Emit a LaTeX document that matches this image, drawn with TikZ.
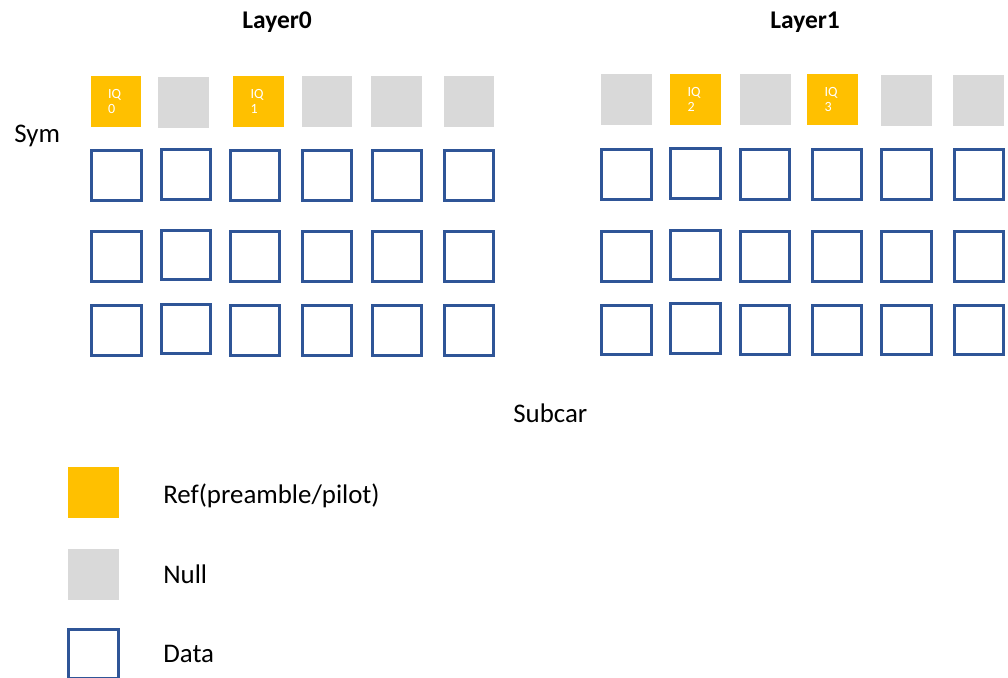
\documentclass[tikz,border=0pt]{standalone}
\usepackage{fontspec}
\setmainfont{Carlito}
\usepackage{tikz}
\usetikzlibrary{positioning}
\definecolor{refyellow}{HTML}{FFC000}
\definecolor{nullgray}{HTML}{D9D9D9}
\definecolor{datablue}{HTML}{2F5597}
\tikzset{
    refbox/.style={rectangle, fill=refyellow, minimum size=1.02cm, inner sep=0pt,
        text=white, align=left, text width=0.32cm, font=\fontsize{8}{8.5}\selectfont},
    nullbox/.style={rectangle, fill=nullgray, minimum size=1.02cm, inner sep=0pt},
    databox/.style={rectangle, draw=datablue, line width=1.5pt, minimum size=0.99cm, inner sep=0pt},
    title/.style={font=\fontsize{14.5}{16}\selectfont\bfseries, inner sep=0pt, anchor=base west},
    label/.style={font=\fontsize{15.3}{17}\selectfont, inner sep=0pt, anchor=base west}
}

\begin{document}
\begin{tikzpicture}[x=0.02cm, y=-0.02cm]
\useasboundingbox (0,0) rectangle (1008,677);

% Headings and axis labels
\node[title] (layer0) at (242,28) {Layer0};
\node[title] (layer1) at (770,28) {Layer1};
\node[label] (sym) at (14,142) {Sym};
\node[label] (subcar) at (513,422) {Subcar};

% Layer0: reference / null row
\node[refbox]  (a0) at (116,101.5)   {IQ\\0};
\node[nullbox] (a1) at (183.5,102)   {};
\node[refbox]  (a2) at (258.5,101.5) {IQ\\1};
\node[nullbox] (a3) at (327,101.5)   {};
\node[nullbox] (a4) at (396.5,101.5) {};
\node[nullbox] (a5) at (469,101.5)   {};

% Layer0: data rows
\node[databox] (b0) at (116.5,175.5) {};
\node[databox] (b1) at (186,174.5)   {};
\node[databox] (b2) at (255,175.5)   {};
\node[databox] (b3) at (327,175.5)   {};
\node[databox] (b4) at (397,175.5)   {};
\node[databox] (b5) at (469,175.5)   {};

\node[databox] (c0) at (116.5,256.5) {};
\node[databox] (c1) at (186,255)     {};
\node[databox] (c2) at (255,256.5)   {};
\node[databox] (c3) at (327,256.5)   {};
\node[databox] (c4) at (397,256.5)   {};
\node[databox] (c5) at (469,256.5)   {};

\node[databox] (d0) at (116.5,330.5) {};
\node[databox] (d1) at (186,329)     {};
\node[databox] (d2) at (255,330.5)   {};
\node[databox] (d3) at (327,330.5)   {};
\node[databox] (d4) at (397,330.5)   {};
\node[databox] (d5) at (469,330.5)   {};

% Layer1: null / reference row
\node[nullbox] (e0) at (626,99.5)    {};
\node[refbox]  (e1) at (695.5,99.5)  {IQ\\2};
\node[nullbox] (e2) at (765.5,99.5)  {};
\node[refbox]  (e3) at (832.5,99.5)  {IQ\\3};
\node[nullbox] (e4) at (906.5,100.5) {};
\node[nullbox] (e5) at (978,100.5)   {};

% Layer1: data rows
\node[databox] (f0) at (626.5,174.5) {};
\node[databox] (f1) at (695.5,173.5) {};
\node[databox] (f2) at (765,174.5)   {};
\node[databox] (f3) at (837,174.5)   {};
\node[databox] (f4) at (906.5,174.5) {};
\node[databox] (f5) at (979,174.5)   {};

\node[databox] (g0) at (626.5,256.5) {};
\node[databox] (g1) at (695.5,255)   {};
\node[databox] (g2) at (765,256.5)   {};
\node[databox] (g3) at (837,256.5)   {};
\node[databox] (g4) at (906.5,256.5) {};
\node[databox] (g5) at (979,256.5)   {};

\node[databox] (h0) at (626.5,330)   {};
\node[databox] (h1) at (695.5,328.5) {};
\node[databox] (h2) at (765,330)     {};
\node[databox] (h3) at (837,330)     {};
\node[databox] (h4) at (906.5,330)   {};
\node[databox] (h5) at (979,330)     {};

% Legend
\node[refbox]  (refkey)  at (93.5,492) {};
\node[nullbox] (nullkey) at (93.5,574) {};
\node[databox] (datakey) at (93.5,654) {};
\node[label] (reftext)  at (163,503) {Ref(preamble/pilot)};
\node[label] (nulltext) at (163,583) {Null};
\node[label] (datatext) at (163,662) {Data};
\end{tikzpicture}
\end{document}
